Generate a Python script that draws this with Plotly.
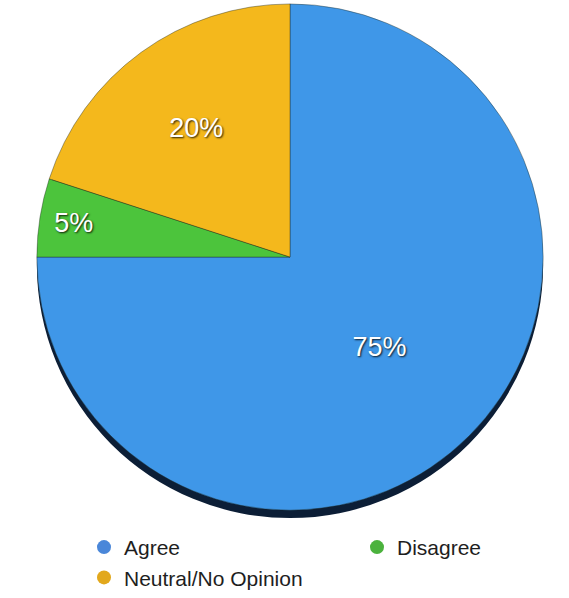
import plotly.graph_objects as go

labels = ["Agree", "Disagree", "Neutral/No Opinion"]
values = [75, 5, 20]
slice_colors = ["#3f97e8", "#4cc43c", "#f4b81c"]
legend_colors = ["#4a87d9", "#4bb23d", "#e2a81c"]
legend_ids = ["legend", "legend2", "legend"]

W, H = 569, 598

def px_x(p):
    return p / W

def px_y(p):
    return 1 - p / H

fig = go.Figure()

# dark rim under the pie (3D edge look)
fig.add_trace(go.Pie(
    labels=labels, values=values, sort=False, direction="clockwise", rotation=0,
    marker=dict(colors=["#0c1e36"] * 3, line=dict(width=0)),
    textinfo="none", hoverinfo="skip", showlegend=False,
    domain=dict(x=[px_x(33), px_x(547)], y=[px_y(526), px_y(12)]),
))

fig.add_trace(go.Pie(
    labels=labels, values=values, sort=False, direction="clockwise", rotation=0,
    marker=dict(colors=slice_colors, line=dict(color="rgba(30,40,30,0.5)", width=0.8)),
    texttemplate="%{percent:.0%}", textposition="inside",
    insidetextorientation="horizontal",
    textfont=dict(family="Liberation Sans", size=27, color="white",
                  shadow="1px 1px 2px rgba(0,0,0,0.85)"),
    showlegend=False,
    domain=dict(x=[px_x(33), px_x(547)], y=[px_y(518), px_y(4)]),
))

for i, lab in enumerate(labels):
    fig.add_trace(go.Scatter(
        x=[None], y=[None], mode="markers", name=lab,
        marker=dict(symbol="circle", size=14, color=legend_colors[i]),
        legend=legend_ids[i], legendgroup=lab, showlegend=True,
    ))

legend_font = dict(family="Liberation Sans", size=21, color="#1e1e1e")
fig.update_layout(
    width=W, height=H,
    margin=dict(l=0, r=0, t=0, b=0),
    paper_bgcolor="white", plot_bgcolor="white",
    xaxis=dict(visible=False), yaxis=dict(visible=False),
    legend=dict(x=px_x(84), y=px_y(535), xanchor="left", yanchor="top",
                orientation="v", font=legend_font, tracegroupgap=0,
                bgcolor="rgba(0,0,0,0)"),
    legend2=dict(x=px_x(357), y=px_y(535), xanchor="left", yanchor="top",
                 orientation="v", font=legend_font, bgcolor="rgba(0,0,0,0)"),
)

fig.write_html("out.html")
